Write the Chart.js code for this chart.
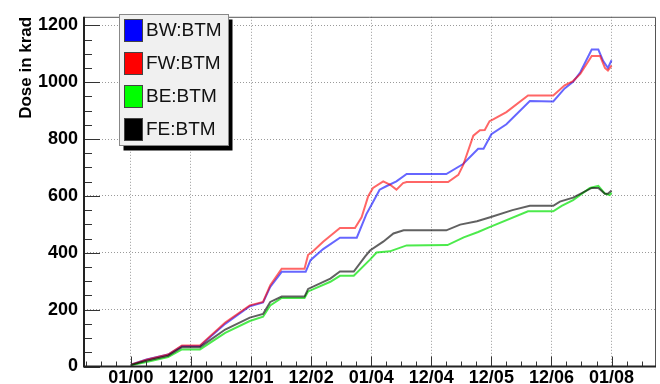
<!DOCTYPE html>
<html><head><meta charset="utf-8">
<script src="https://cdn.jsdelivr.net/npm/chart.js@4"></script>
<style>html,body{margin:0;padding:0;background:#fff}canvas{display:block}</style>
</head><body>
<canvas id="c" width="660" height="384"></canvas>
<script>
// ---- data ----
const xTickValues = [0,1,2,3,4,5,6,7,8];
const xTickLabels = ['01/00','12/00','12/01','12/02','01/04','12/04','12/05','12/06','01/08'];
const yTickValues = [0,200,400,600,800,1000,1200];
const seriesLabels = ['BW:BTM','FW:BTM','BE:BTM','FE:BTM'];

const bwX = [0,0.26,0.62,0.85,1.15,1.57,1.98,2.2,2.32,2.51,2.91,2.99,3.2,3.48,3.76,3.92,4.01,4.14,4.25,4.42,4.59,5.25,5.53,5.78,5.87,6.0,6.25,6.64,7.03,7.22,7.36,7.48,7.67,7.78,7.86,7.94,8.0];
const bwY = [6,25,42,72,72,150,212,225,280,333,333,374,413,453,453,536,571,622,634,651,677,677,712,766,766,817,852,934,932,978,1001,1035,1115,1115,1075,1050,1077];

const fwX = [0,0.26,0.62,0.85,1.15,1.57,1.98,2.2,2.32,2.51,2.89,2.95,3.01,3.2,3.48,3.73,3.84,3.95,4.03,4.2,4.31,4.42,4.53,4.59,5.28,5.45,5.53,5.7,5.81,5.89,5.97,6.03,6.25,6.61,7.03,7.22,7.36,7.48,7.67,7.81,7.89,7.94,8.0];
const fwY = [6,24,42,74,74,155,215,227,286,344,344,393,401,439,487,487,525,599,628,651,640,622,645,649,649,674,708,812,831,832,863,869,895,953,953,989,1004,1029,1092,1092,1050,1041,1058];

const beX = [0,0.26,0.62,0.85,1.15,1.57,1.98,2.2,2.32,2.51,2.89,2.95,3.32,3.48,3.71,3.98,4.09,4.31,4.59,5.27,5.54,5.78,5.98,6.61,7.03,7.17,7.36,7.64,7.78,7.89,7.97,8.0];
const beY = [4,16,33,60,60,118,160,175,215,241,241,264,298,319,319,376,401,405,426,427,454,473,491,546,546,565,585,628,635,608,603,612];

const feX = [0,0.26,0.62,0.85,1.15,1.57,1.98,2.2,2.32,2.51,2.89,2.95,3.32,3.48,3.71,3.9,3.98,4.2,4.37,4.54,5.25,5.48,5.76,5.98,6.35,6.64,7.03,7.14,7.36,7.67,7.78,7.89,7.94,8.0];
const feY = [5,20,38,68,68,130,172,185,227,246,246,273,309,334,334,387,408,439,468,479,479,499,511,525,550,565,565,580,594,628,628,608,608,619];

const lineColors = ['rgba(0,0,255,0.6)','rgba(255,0,0,0.6)','rgba(0,225,0,0.7)','rgba(0,0,0,0.62)'];
const boxColors = ['#0000ff','#ff0000','#00ff00','#000000'];

function pts(xs, ys){ return xs.map((x,i)=>({x:x, y:ys[i]})); }

const FONT = '"Liberation Sans", Arial, Helvetica, sans-serif';

const framePlugin = {
  id: 'rootFrame',
  afterDraw(chart){
    const ctx = chart.ctx, a = chart.chartArea;
    const xs = chart.scales.x, ys = chart.scales.y;
    ctx.save();
    // tick marks inside the frame
    ctx.strokeStyle = '#333'; ctx.lineWidth = 1;
    ctx.beginPath();
    for (let v = 0; v <= 1200; v += 50) {
      const p = Math.round(ys.getPixelForValue(v)) + 0.5;
      const len = (v % 200 === 0) ? 16 : 8;
      ctx.moveTo(a.left, p); ctx.lineTo(a.left + len, p);
    }
    for (let v = -0.75; v <= 8.75; v += 0.25) {
      const p = Math.round(xs.getPixelForValue(v)) + 0.5;
      if (p < a.left || p > a.right) continue;
      const len = (Math.abs(v - Math.round(v)) < 1e-6) ? 10 : 5;
      ctx.moveTo(p, a.bottom); ctx.lineTo(p, a.bottom - len);
    }
    ctx.stroke();
    // frame
    ctx.strokeStyle = '#555'; ctx.lineWidth = 1;
    ctx.beginPath();
    ctx.moveTo(a.left, a.top + 0.5); ctx.lineTo(a.right - 0.5, a.top + 0.5); ctx.lineTo(a.right - 0.5, a.bottom);
    ctx.stroke();
    ctx.strokeStyle = '#222'; ctx.lineWidth = 2;
    ctx.beginPath();
    ctx.moveTo(a.left, a.top); ctx.lineTo(a.left, a.bottom); ctx.lineTo(a.right, a.bottom);
    ctx.stroke();
    // legend box
    const bx = 119.5, by = 14.5, bw = 109, bh = 131;
    ctx.fillStyle = '#000';
    ctx.fillRect(bx + 4, by + 5, bw, bh);
    ctx.fillStyle = '#f0f0f0';
    ctx.fillRect(bx, by, bw, bh);
    ctx.strokeStyle = '#888'; ctx.lineWidth = 1;
    ctx.strokeRect(bx, by, bw, bh);
    const rowTop = [19, 52, 85, 118];
    const base = [36, 69, 102, 135];
    ctx.font = '19px ' + FONT;
    ctx.textBaseline = 'alphabetic';
    ctx.textAlign = 'left';
    chart.data.datasets.forEach((ds, i) => {
      ctx.fillStyle = boxColors[i];
      ctx.fillRect(124, rowTop[i], 19, 23);
      ctx.strokeStyle = '#444';
      ctx.strokeRect(124.5, rowTop[i] + 0.5, 18, 22);
      ctx.fillStyle = '#111';
      ctx.fillText(ds.label, 146, base[i]);
    });
    ctx.restore();
  }
};

const series = [[bwX,bwY],[fwX,fwY],[beX,beY],[feX,feY]];
const datasets = series.map((s, i) => ({
  label: seriesLabels[i],
  data: pts(s[0], s[1]),
  borderColor: lineColors[i],
  backgroundColor: lineColors[i],
  borderWidth: 2,
  pointRadius: 0,
  tension: 0,
  fill: false,
  order: 4 - i
}));

new Chart(document.getElementById('c'), {
  type: 'line',
  data: { datasets },
  options: {
    responsive: false,
    devicePixelRatio: 1,
    animation: false,
    layout: { padding: { left: 0, top: 9.5, right: 4, bottom: 0 } },
    plugins: { legend: { display: false }, tooltip: { enabled: false } },
    scales: {
      x: {
        type: 'linear',
        min: -0.78, max: 8.74,
        afterBuildTicks(scale){ scale.ticks = xTickValues.map(v => ({ value: v })); },
        afterFit(scale){ scale.height = 17.5; },
        ticks: {
          color: '#000',
          font: { family: FONT, size: 18, weight: 'bold', lineHeight: 1.2 },
          padding: 1,
          maxRotation: 0,
          autoSkip: false,
          callback(v){ const i = xTickValues.indexOf(v); return i >= 0 ? xTickLabels[i] : ''; }
        },
        grid: { color: '#9a9a9a', lineWidth: 1, drawTicks: false },
        border: { display: false, dash: [1, 2] }
      },
      y: {
        type: 'linear',
        min: 0, max: 1230,
        afterBuildTicks(scale){ scale.ticks = yTickValues.map(v => ({ value: v })); },
        afterFit(scale){ scale.width = 84; },
        ticks: {
          color: '#000',
          font: { family: FONT, size: 18, weight: 'bold' },
          padding: 6,
          autoSkip: false,
          callback(v){ return String(v); }
        },
        grid: { color: '#9a9a9a', lineWidth: 1, drawTicks: false },
        border: { display: false, dash: [1, 2] },
        title: {
          display: true,
          text: 'Dose in krad',
          align: 'end',
          color: '#000',
          font: { family: FONT, size: 17, weight: 'bold' },
          padding: { top: 16, bottom: 0 }
        }
      }
    }
  },
  plugins: [framePlugin]
});
</script>
</body></html>
